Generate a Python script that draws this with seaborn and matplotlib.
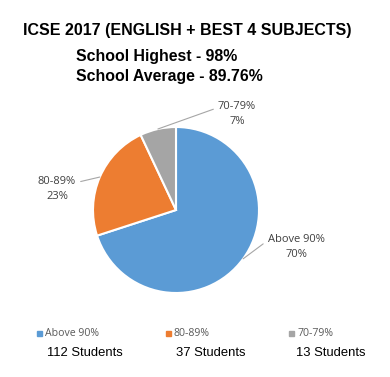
import numpy as np
import matplotlib
matplotlib.use("Agg")
import matplotlib.pyplot as plt
from matplotlib.patches import Rectangle
import seaborn as sns

categories = ["Above 90%", "80-89%", "70-79%"]
percents = [70, 23, 7]
students = [112, 37, 13]
colors = ["#5B9BD5", "#ED7D31", "#A5A5A5"]

sns.set_theme(style="white")
plt.rcParams["font.family"] = ["Liberation Sans", "DejaVu Sans"]

W, H = 390, 377
fig = plt.figure(figsize=(W / 100, H / 100), dpi=100)

# pie centred at (176, 210) px with radius 83 px
cx, cy, r = 176, 210, 83
ax = fig.add_axes([(cx - r) / W, (H - cy - r) / H, 2 * r / W, 2 * r / H])
wedges, _ = ax.pie(percents, colors=colors, startangle=90, counterclock=False,
                   radius=1.0, wedgeprops=dict(edgecolor="white", linewidth=1.5))
ax.set_xlim(-1, 1)
ax.set_ylim(-1, 1)
ax.set_aspect("equal")
ax.axis("off")

# label positions (px) and where the leader line meets the text
label_px = [(296, 247), (57, 189), (237, 114)]
relpos = [(0, 0.75), (1, 0.75), (0, 0.75)]
for w, cat, p, (lx, ly), rp in zip(wedges, categories, percents, label_px, relpos):
    ang = np.deg2rad((w.theta1 + w.theta2) / 2)
    xy = (np.cos(ang), np.sin(ang))
    ax.annotate(f"{cat}\n{p}%", xy=xy, xytext=((lx - cx) / r, (cy - ly) / r),
                ha="center", va="center", fontsize=8, color="#404040",
                family=["Open Sans", "DejaVu Sans"], linespacing=1.45,
                annotation_clip=False,
                arrowprops=dict(arrowstyle="-", color="#A6A6A6", lw=0.8,
                                shrinkA=1, shrinkB=0, relpos=rp))

fig.text(187 / W, 1 - 31 / H, "ICSE 2017 (ENGLISH + BEST 4 SUBJECTS)",
         ha="center", va="center", fontsize=11.5, fontweight="bold", color="black")
fig.text(76 / W, 1 - 57 / H, "School Highest - 98%", ha="left", va="center",
         fontsize=11.4, fontweight="bold", color="black")
fig.text(76 / W, 1 - 76 / H, "School Average - 89.76%", ha="left", va="center",
         fontsize=11.4, fontweight="bold", color="black")

# legend row and student counts
leg_x = [37, 166, 289]
cnt_x = [47, 176, 296]
for x, cx2, cat, col, n in zip(leg_x, cnt_x, categories, colors, students):
    fig.patches.append(Rectangle((x / W, 1 - 336 / H), 5 / W, 5 / H,
                                 transform=fig.transFigure, color=col))
    fig.text((x + 8) / W, 1 - 333 / H, cat, ha="left", va="center",
             fontsize=7.6, color="#595959", family=["Open Sans", "DejaVu Sans"])
    fig.text(cx2 / W, 1 - 353 / H, f"{n} Students", ha="left", va="center",
             fontsize=9.4, color="black")

fig.savefig("out.png", dpi=100, facecolor="white")
